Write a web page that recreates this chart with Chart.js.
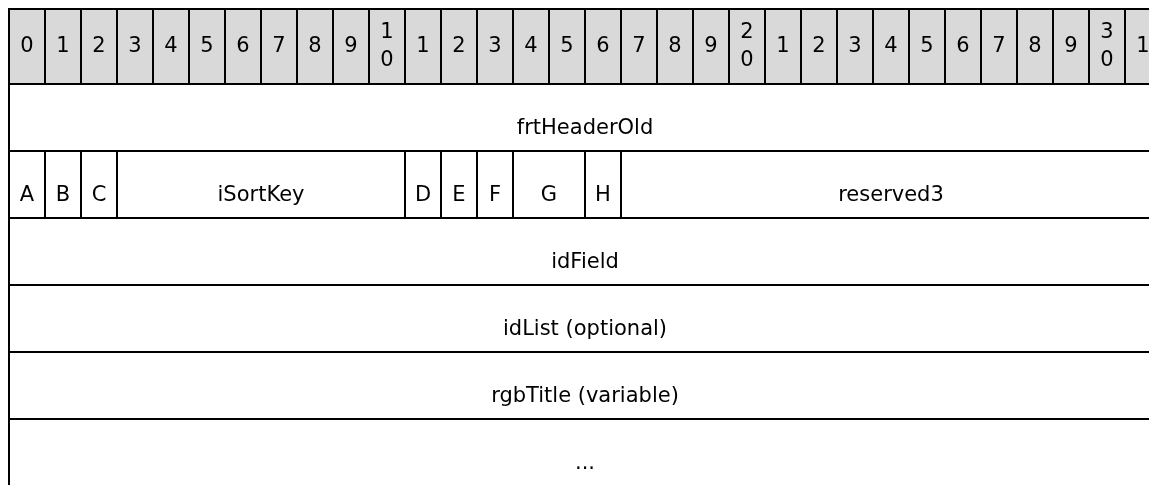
<!DOCTYPE html>
<html>
<head>
<meta charset="utf-8">
<title>Record layout</title>
<script src="https://cdn.jsdelivr.net/npm/chart.js@4.4.1/dist/chart.umd.min.js"></script>
<style>
    html, body { margin: 0; padding: 0; background: #ffffff; overflow: hidden; }
    .chart-box { position: relative; width: 1170px; height: 486px; }
</style>
</head>
<body>
<div class="chart-box"><canvas id="layoutChart"></canvas></div>
<script>
// HEADER ROW (bit numbers as printed; tens are stacked)
const bitLabels = ["0", "1", "2", "3", "4", "5", "6", "7", "8", "9",
                   "10", "1", "2", "3", "4", "5", "6", "7", "8", "9",
                   "20", "1", "2", "3", "4", "5", "6", "7", "8", "9",
                   "30", "1"];
const bitStarts = [0, 1, 2, 3, 4, 5, 6, 7, 8, 9,
                   10, 11, 12, 13, 14, 15, 16, 17, 18, 19,
                   20, 21, 22, 23, 24, 25, 26, 27, 28, 29,
                   30, 31];

// FIELDS (one entry per box)
const rowLabels = ["row1", "row2", "row3", "row4", "row5", "row6"];
const fieldNames = ["frtHeaderOld", "A", "B", "C", "iSortKey", "D", "E", "F", "G", "H",
                    "reserved3", "idField", "idList (optional)", "rgbTitle (variable)", "..."];
const fieldStart = [0, 0, 1, 2, 3, 11, 12, 13, 14, 16, 17, 0, 0, 0, 0];
const fieldEnd   = [32, 1, 2, 3, 11, 12, 13, 14, 16, 17, 32, 32, 32, 32, 32];
const fieldRow   = [0, 1, 1, 1, 1, 1, 1, 1, 1, 1, 1, 2, 3, 4, 5];

const fontFamily = "'DejaVu Sans', Verdana, sans-serif";

// Text inside each box
const boxLabels = {
    id: "boxLabels",
    afterDatasetsDraw(chart) {
        const ctx = chart.ctx;
        ctx.save();
        ctx.font = "21px " + fontFamily;
        ctx.fillStyle = "#000000";
        ctx.textAlign = "center";
        ctx.textBaseline = "middle";
        chart.data.datasets.forEach((ds, di) => {
            const meta = chart.getDatasetMeta(di);
            meta.data.forEach((bar, i) => {
                const text = ds.boxText[i];
                const cx = (bar.x + bar.base) / 2;
                if (ds.isHeader) {
                    const lines = text.split("");
                    const lh = 28;
                    const top = bar.y - (lines.length - 1) * lh / 2;
                    lines.forEach((ln, k) => ctx.fillText(ln, cx, top + k * lh));
                } else {
                    // field names sit a little below the middle of their box
                    ctx.fillText(text, cx, bar.y + 11);
                }
            });
        });
        ctx.restore();
    }
};

const boxStyle = {
    borderColor: "#000000",
    borderWidth: 1,
    borderSkipped: false,
    inflateAmount: 0,
    barPercentage: 1,
    categoryPercentage: 1,
    grouped: false
};

const ctx = document.getElementById("layoutChart").getContext("2d");
new Chart(ctx, {
    type: "bar",
    data: {
        datasets: [
            Object.assign({
                label: "bits",
                isHeader: true,
                boxText: bitLabels,
                yAxisID: "yHead",
                data: bitStarts.map(b => ({ x: [b, b + 1], y: "bits" })),
                backgroundColor: "#d9d9d9"
            }, boxStyle),
            Object.assign({
                label: "fields",
                isHeader: false,
                boxText: fieldNames,
                yAxisID: "yBody",
                data: fieldNames.map((n, i) => ({ x: [fieldStart[i], fieldEnd[i]], y: rowLabels[fieldRow[i]] })),
                backgroundColor: "#ffffff"
            }, boxStyle)
        ]
    },
    options: {
        indexAxis: "y",
        responsive: true,
        maintainAspectRatio: false,
        animation: false,
        events: [],
        layout: { padding: { top: 9, left: 9, right: 9, bottom: 0 } },
        plugins: {
            legend: { display: false },
            tooltip: { enabled: false }
        },
        scales: {
            x: {
                type: "linear",
                position: "top",
                min: 0,
                max: 32,
                ticks: { display: false },
                grid: { display: false, drawTicks: false },
                border: { display: true, color: "#000000", width: 2 }
            },
            // stacked axes: the one listed last is placed on top
            yBody: {
                type: "category",
                labels: rowLabels,
                position: "left",
                stack: "rows",
                stackWeight: 402,
                offset: true,
                ticks: { display: false },
                grid: { display: false, drawTicks: false },
                border: { display: true, color: "#000000", width: 2 }
            },
            yHead: {
                type: "category",
                labels: ["bits"],
                position: "left",
                stack: "rows",
                stackWeight: 75,
                offset: true,
                ticks: { display: false },
                grid: { display: false, drawTicks: false },
                border: { display: true, color: "#000000", width: 2 }
            }
        }
    },
    plugins: [boxLabels]
});
</script>
</body>
</html>
